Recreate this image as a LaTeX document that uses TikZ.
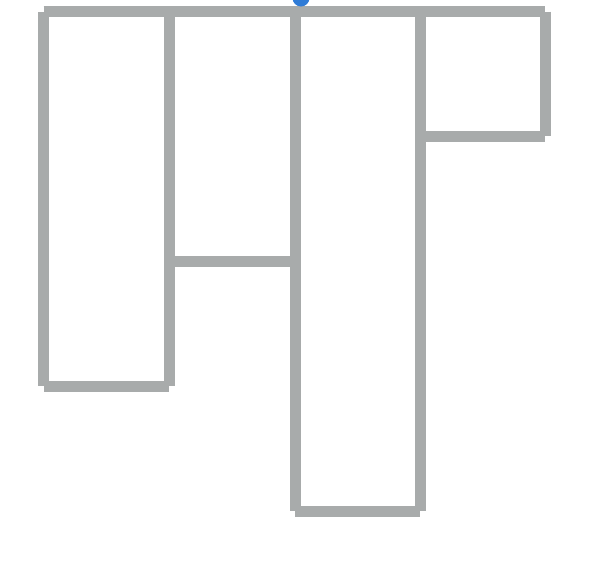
\documentclass[tikz,border=0pt]{standalone}
\definecolor{wallgray}{RGB}{168,171,171}
\definecolor{dotblue}{RGB}{47,123,214}
\begin{document}
\begin{tikzpicture}[x=1pt,y=-1pt,
  wall/.style={draw=wallgray,line width=11pt,line cap=butt}]
\useasboundingbox (0,0) rectangle (612,566);
\coordinate (t0) at (43.5,11.5);
\coordinate (t1) at (169,11.5);
\coordinate (t2) at (295,11.5);
\coordinate (t3) at (420,11.5);
\coordinate (t4) at (545,11.5);
\coordinate (b0) at (43.5,386);
\coordinate (b1) at (169,386);
\coordinate (m1) at (169,261);
\coordinate (m2) at (295,261);
\coordinate (b2) at (295,511);
\coordinate (b3) at (420,511);
\coordinate (r3) at (420,136);
\coordinate (r4) at (545,136);
\draw[wall] (t0) -- (t4);
\draw[wall] (t0) -- (b0);
\draw[wall] (t1) -- (b1);
\draw[wall] (b0) -- (b1);
\draw[wall] (m1) -- (m2);
\draw[wall] (t2) -- (b2);
\draw[wall] (t3) -- (b3);
\draw[wall] (b2) -- (b3);
\draw[wall] (r3) -- (r4);
\draw[wall] (t4) -- (r4);
\node[circle,fill=dotblue,inner sep=0pt,minimum size=17pt] (dot) at (301,-2) {};
\end{tikzpicture}
\end{document}
